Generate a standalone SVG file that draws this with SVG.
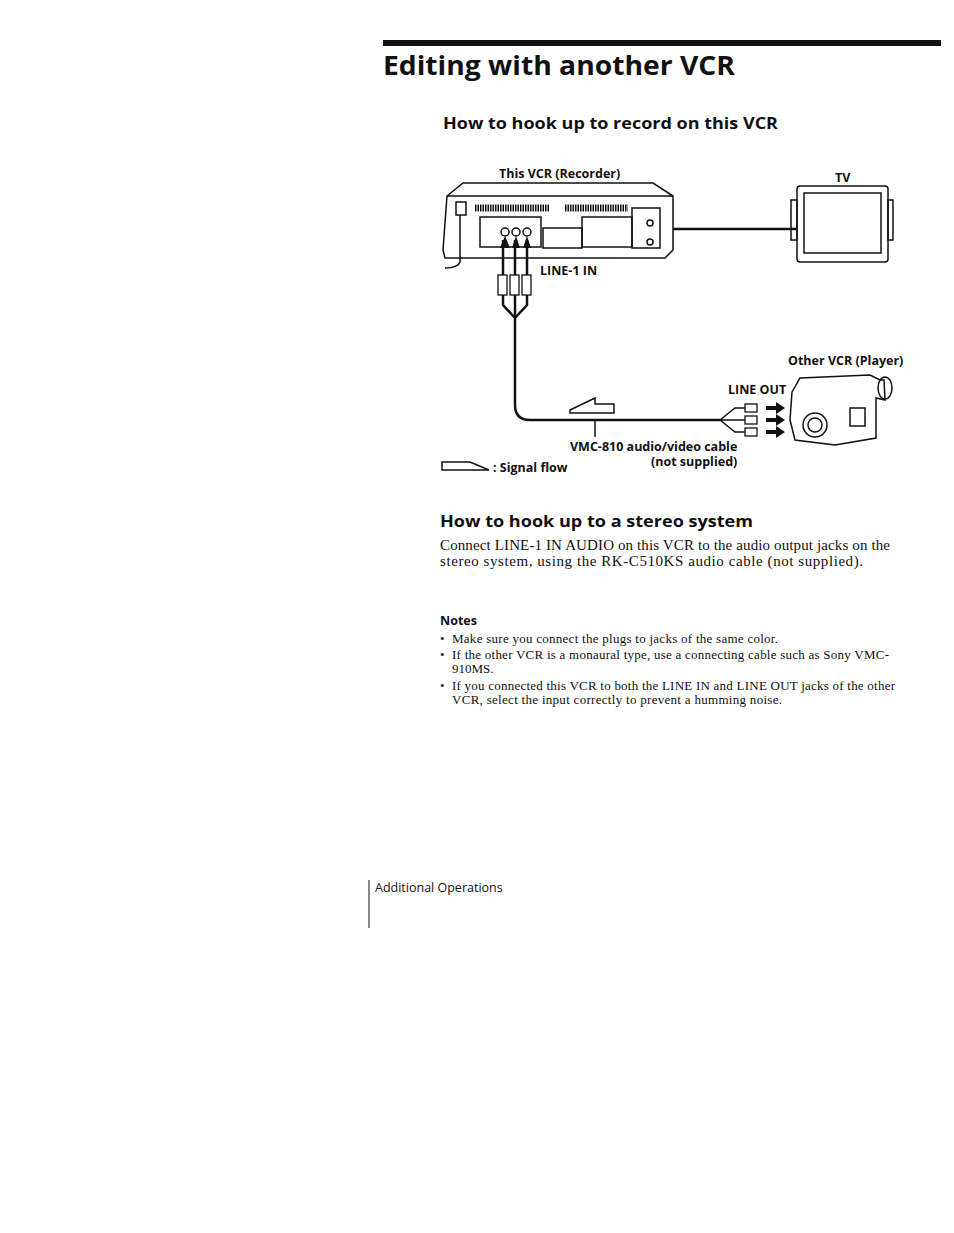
<svg xmlns="http://www.w3.org/2000/svg" width="954" height="1233" viewBox="0 0 954 1233">
<style>
.h{font-family:"Open Sans","DejaVu Sans",sans-serif;font-weight:bold;fill:#111}
.l{font-family:"Open Sans","DejaVu Sans",sans-serif;font-weight:bold;font-size:12.5px;fill:#111}
.b{font-family:"Liberation Serif",serif;fill:#111}
.s{fill:none;stroke:#111;stroke-width:1.5}
.c{fill:none;stroke:#111;stroke-width:2.5}
</style>
<rect width="954" height="1233" fill="#fff"/>
<rect x="383" y="40" width="558" height="6" fill="#111"/>
<text class="h" x="383" y="75" font-size="27" font-weight="800" textLength="352" lengthAdjust="spacingAndGlyphs">Editing with another VCR</text>
<text class="h" x="443" y="129" font-size="16.5" textLength="335" lengthAdjust="spacingAndGlyphs">How to hook up to record on this VCR</text>
<g id="vcr">
<text class="l" x="499" y="178">This VCR (Recorder)</text>
<path class="s" d="M447,196 L463,183 L653,183 L673,196 L673,250 L665,258 L445,258 L443,250 Z M447,196 L673,196"/>
<rect class="s" x="480" y="217" width="61" height="30"/>
<rect class="s" x="543" y="228" width="39" height="20"/>
<rect class="s" x="582" y="217" width="50" height="30"/>
<rect class="s" x="632" y="208" width="28" height="40"/>
<circle class="s" cx="650" cy="223" r="3"/><circle class="s" cx="650" cy="242" r="3"/>
<rect class="s" x="456" y="202" width="10" height="13"/>
<path d="M475,208 H550 M565,208 H628" stroke="#111" stroke-width="7" stroke-dasharray="1.5,1"/>
<circle class="s" cx="505" cy="232" r="4"/><circle class="s" cx="516" cy="232" r="4"/><circle class="s" cx="527" cy="232" r="4"/>
<path class="s" d="M460,215 V262 Q458,268 445,268"/>
<text class="l" x="540" y="275">LINE-1 IN</text>
</g>
<g id="tv">
<text class="l" x="835" y="182">TV</text>
<rect class="s" x="797" y="186" width="91" height="76" rx="3"/>
<rect class="s" x="804" y="193" width="77" height="60"/>
<rect class="s" x="791" y="200" width="6" height="40"/><rect class="s" x="888" y="200" width="5" height="40"/>
</g>
<g id="cam">
<text class="l" x="788" y="365">Other VCR (Player)</text>
<text class="l" x="728" y="394">LINE OUT</text>
<path class="s" d="M792,392 L800,378 L870,375 L880,380 L884,380 L885,400 L876,398 L876,438 L835,445 L795,440 L790,420 Z"/>
<ellipse class="s" cx="885" cy="388" rx="7" ry="11"/>
<circle class="s" cx="815" cy="425" r="12"/><circle class="s" cx="815" cy="425" r="7"/>
<rect class="s" x="850" y="408" width="15" height="18"/>
</g>
<g id="connectors">
<line class="c" x1="673" y1="229" x2="797" y2="229"/>
<path class="c" d="M503,240 V305 L515,318 M515,240 V318 M527,240 V305 L515,318 V405 Q515,420 530,420 H720"/>
<g fill="#fff" stroke="#111" stroke-width="1.3">
<rect x="498" y="275" width="9" height="20"/><rect x="510" y="275" width="9" height="20"/><rect x="522" y="275" width="9" height="20"/>
</g>
<path d="M500,248 l5,-12 l5,12 z M512,248 l4,-12 l4,12 z M523,248 l4,-12 l4,12 z" fill="#111"/>
<path class="s" d="M720,420 L735,408 H745 M720,420 H745 M720,420 L735,432 H745"/>
<g fill="#fff" stroke="#111" stroke-width="1.3">
<rect x="745" y="404" width="12" height="8"/><rect x="745" y="416" width="12" height="8"/><rect x="745" y="428" width="12" height="8"/>
</g>
<path d="M766,406 h10 v-4 l9,6 l-9,6 v-4 h-10 z M766,418 h10 v-4 l9,6 l-9,6 v-4 h-10 z M766,430 h10 v-4 l9,6 l-9,6 v-4 h-10 z" fill="#111"/>
<path class="s" d="M570,410 L595,398 V404 H614 V413 H570 Z"/>
<line class="s" x1="595" y1="420" x2="595" y2="437"/>
</g>
<text class="l" x="570" y="451">VMC-810 audio/video cable</text>
<text class="l" x="651" y="466">(not supplied)</text>
<path class="s" d="M442,470 V462 H470 L489,470 Z"/>
<text class="l" x="493" y="472">: Signal flow</text>
<text class="h" x="440" y="527" font-size="16.5" textLength="313" lengthAdjust="spacingAndGlyphs">How to hook up to a stereo system</text>
<text class="b" x="440" y="550" font-size="15" textLength="450">Connect LINE-1 IN AUDIO on this VCR to the audio output jacks on the</text>
<text class="b" x="440" y="566" font-size="15" textLength="423">stereo system, using the RK-C510KS audio cable (not supplied).</text>
<text class="h" x="440" y="625" font-size="12.5">Notes</text>
<g class="b" font-size="13">
<text x="440" y="643">•</text><text x="452" y="643" textLength="326">Make sure you connect the plugs to jacks of the same color.</text>
<text x="440" y="659">•</text><text x="452" y="659" textLength="437">If the other VCR is a monaural type, use a connecting cable such as Sony VMC-</text>
<text x="452" y="673">910MS.</text>
<text x="440" y="690">•</text><text x="452" y="690" textLength="443">If you connected this VCR to both the LINE IN and LINE OUT jacks of the other</text>
<text x="452" y="704" textLength="330">VCR, select the input correctly to prevent a humming noise.</text>
</g>
<line x1="369" y1="880" x2="369" y2="928" stroke="#111" stroke-width="1"/>
<text x="375" y="892" font-family="'Open Sans','DejaVu Sans',sans-serif" font-size="12.5" fill="#111">Additional Operations</text>
</svg>
